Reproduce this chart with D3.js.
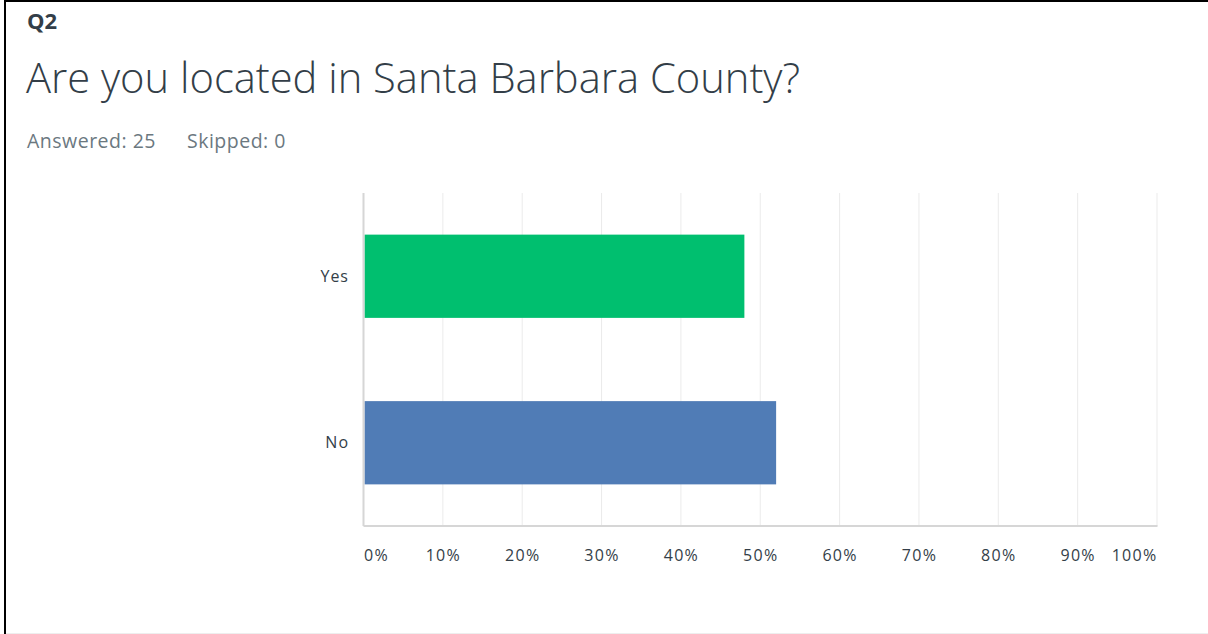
<!DOCTYPE html>
<html>
<head>
<meta charset="utf-8">
<script src="https://cdn.jsdelivr.net/npm/d3@7"></script>
<style>
  html, body { margin: 0; padding: 0; background: #fff; }
  svg { display: block; }
</style>
</head>
<body>
<svg id="chart" width="1208" height="634"></svg>
<script>
// Survey question and response data
const questionId = "Q2";
const questionText = "Are you located in Santa Barbara County?";
const answeredCount = 25;
const skippedCount = 0;
const categories = ["Yes", "No"];
const responseShares = [0.48, 0.52];
const barColors = ["#00bf6f", "#507cb6"];
const tickValues = [0, 0.1, 0.2, 0.3, 0.4, 0.5, 0.6, 0.7, 0.8, 0.9, 1.0];
const tickLabels = ["0%", "10%", "20%", "30%", "40%", "50%", "60%", "70%", "80%", "90%", "100%"];

const svg = d3.select("#chart");
const W = 1208, H = 634;
const font = "'Open Sans', 'Noto Sans', sans-serif";

// Frame edges
svg.append("rect").attr("x", 0).attr("y", 0).attr("width", W).attr("height", H).attr("fill", "#fff");
svg.append("rect").attr("x", 4).attr("y", 0).attr("width", W - 4).attr("height", 2).attr("fill", "#000");
svg.append("rect").attr("x", 4).attr("y", 0).attr("width", 2).attr("height", H).attr("fill", "#000");
svg.append("rect").attr("x", 6).attr("y", H - 1).attr("width", W - 6).attr("height", 1).attr("fill", "#eeeeee");

// Header texts
svg.append("text").attr("x", 27).attr("y", 29)
  .attr("font-family", font).attr("font-weight", 700).attr("font-size", 22)
  .attr("fill", "#333e48").text(questionId);

svg.append("text").attr("x", 26).attr("y", 93)
  .attr("font-family", font).attr("font-weight", 300).attr("font-size", 41.7)
  .attr("fill", "#333e48").text(questionText);

svg.append("text").attr("x", 27).attr("y", 148)
  .attr("font-family", font).attr("font-size", 19.5).attr("letter-spacing", 0.5)
  .attr("fill", "#6b787f").text("Answered: " + answeredCount);

svg.append("text").attr("x", 187).attr("y", 148)
  .attr("font-family", font).attr("font-size", 19.5).attr("letter-spacing", 0.5)
  .attr("fill", "#6b787f").text("Skipped: " + skippedCount);

// Scales
const x = d3.scaleLinear().domain([0, 1]).range([363.5, 1157]);
const y = d3.scaleBand().domain(categories).range([193, 526]).paddingInner(0.5).paddingOuter(0.25);

const plot = svg.append("g");

// Vertical gridlines
plot.selectAll("line.grid").data(tickValues.slice(1)).join("line")
  .attr("class", "grid")
  .attr("x1", d => x(d)).attr("x2", d => x(d))
  .attr("y1", 193).attr("y2", 526)
  .attr("stroke", "#ebebeb").attr("stroke-width", 1);

// Bars
const rows = categories.map((c, i) => ({ c, v: responseShares[i], color: barColors[i] }));
plot.selectAll("rect.bar").data(rows).join("rect")
  .attr("class", "bar")
  .attr("x", x(0) + 1)
  .attr("y", d => y(d.c))
  .attr("width", d => x(d.v) - x(0) - 1)
  .attr("height", y.bandwidth())
  .attr("fill", d => d.color);

// Axis lines
plot.append("line").attr("x1", x(0)).attr("x2", x(0)).attr("y1", 193).attr("y2", 526)
  .attr("stroke", "#d6d6d6").attr("stroke-width", 2);
plot.append("line").attr("x1", x(0)).attr("x2", x(1) + 0.5).attr("y1", 526).attr("y2", 526)
  .attr("stroke", "#d6d6d6").attr("stroke-width", 2);

// Category labels
plot.selectAll("text.cat").data(categories).join("text")
  .attr("class", "cat")
  .attr("x", 349)
  .attr("y", d => y(d) + y.bandwidth() / 2)
  .attr("dy", "0.35em")
  .attr("text-anchor", "end")
  .attr("font-family", font).attr("font-size", 16).attr("letter-spacing", 1)
  .attr("fill", "#333e48")
  .text(d => d);

// Tick labels along the bottom
const xAxis = d3.axisBottom(x).tickValues(tickValues)
  .tickFormat((d, i) => tickLabels[i]).tickSize(0).tickPadding(0);
const axisG = svg.append("g").attr("transform", "translate(0,550)").call(xAxis);
axisG.select(".domain").remove();
axisG.selectAll("text")
  .attr("font-family", font).attr("font-size", 16).attr("letter-spacing", 1.3)
  .attr("fill", "#333e48")
  .attr("text-anchor", (d, i) => i === 0 ? "start" : (i === tickValues.length - 1 ? "end" : "middle"));
</script>
</body>
</html>
